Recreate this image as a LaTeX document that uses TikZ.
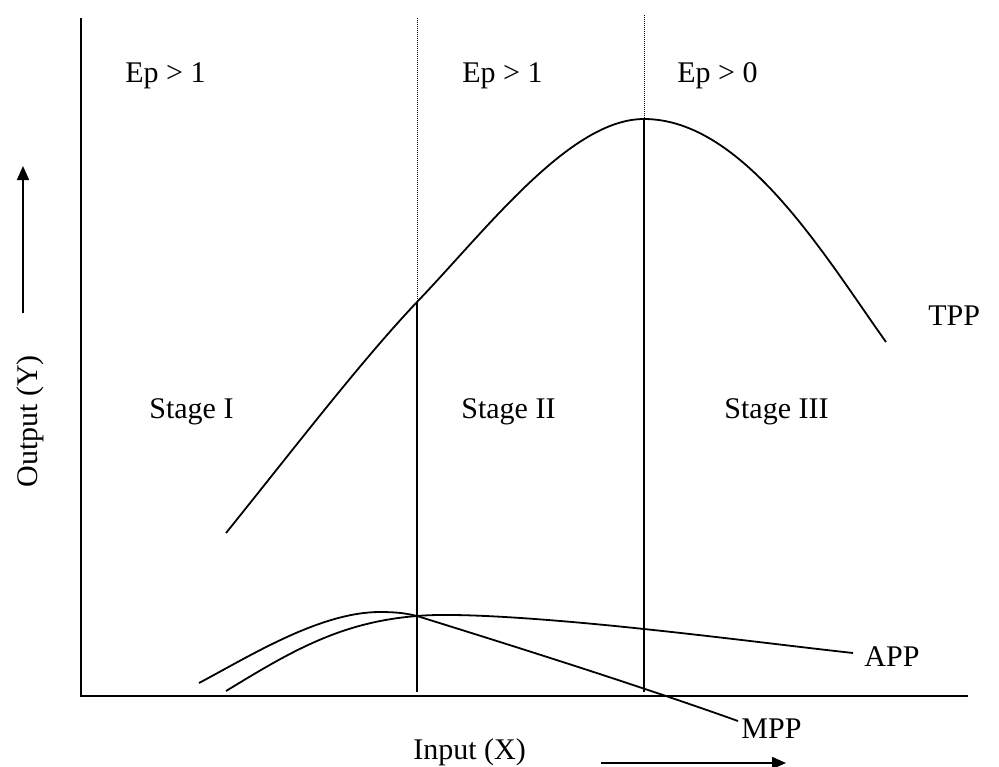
\documentclass[tikz,border=0pt]{standalone}
\usepackage{fontspec}
\setmainfont{Liberation Serif}
\usetikzlibrary{arrows.meta}
\tikzset{
        x=0.5pt, y=-0.5pt,
        axis/.style={line width=0.9pt},
        curve/.style={line width=0.9pt, line join=round},
        border/.style={line width=0.9pt},
        dotborder/.style={line width=0.5pt, dash pattern=on 0.5pt off 0.5pt},
        label/.style={anchor=base west, inner sep=0pt, font=\fontsize{15}{18}\selectfont},
        dirarrow/.style={line width=0.9pt, -{Triangle[length=7pt, width=6pt]}}
          }
\begin{document}
\begin{tikzpicture}
        \useasboundingbox (0,0) rectangle (999,766);
        % axes
        \coordinate (origin) at (81,696);
        \coordinate (ytop) at (81,18);
        \coordinate (xend) at (968,696);
        \draw[axis] (ytop) -- (origin) -- (xend);
        % stage borders
        \coordinate (top1) at (417,18);
        \coordinate (cut1) at (417,302);
        \coordinate (foot1) at (417,692);
        \coordinate (top2) at (644,15);
        \coordinate (cut2) at (644,119);
        \coordinate (foot2) at (644,692);
        \draw[dotborder] (top1) -- (cut1);
        \draw[border] (cut1) -- (foot1);
        \draw[dotborder] (top2) -- (cut2);
        \draw[border] (cut2) -- (foot2);
        % curves
        \coordinate (meet) at (417,616);
        \draw[curve] (226,533) .. controls (289,455) and (360,362) .. (cut1)
          .. controls (487,229) and (570,119) .. (cut2)
          .. controls (744,119) and (826,258) .. (886,342);
        \draw[curve] (226,691) .. controls (290,652) and (340,622) .. (meet)
          .. controls (460,612) and (560,620) .. (644,629)
          .. controls (720,637) and (790,646) .. (853,653);
        \draw[curve] (199,683) .. controls (250,656) and (320,612) .. (380,612)
          .. controls (395,612) and (405,613) .. (meet)
          .. controls (520,648) and (640,686) .. (738,721);
        % texts
        \node[label] (ep1) at (125,82) {Ep > 1};
        \node[label] (ep2) at (462,82) {Ep > 1};
        \node[label] (ep3) at (677,82) {Ep > 0};
        \node[label] (stage1) at (149,418) {Stage I};
        \node[label] (stage2) at (461,418) {Stage II};
        \node[label] (stage3) at (724,418) {Stage III};
        \node[label] (tpp) at (928,325) {TPP};
        \node[label] (app) at (864,666) {APP};
        \node[label] (mpp) at (741,738) {MPP};
        \node[label] (xname) at (413,759) {Input (X)};
        \node[label, rotate=90] (yname) at (37,488) {Output (Y)};
        % direction arrows
        \coordinate (ytail) at (23,313);
        \coordinate (yhead) at (23,166);
        \coordinate (xtail) at (601,763);
        \coordinate (xhead) at (786,763);
        \draw[dirarrow] (ytail) -- (yhead);
        \draw[dirarrow] (xtail) -- (xhead);
\end{tikzpicture}
\end{document}
